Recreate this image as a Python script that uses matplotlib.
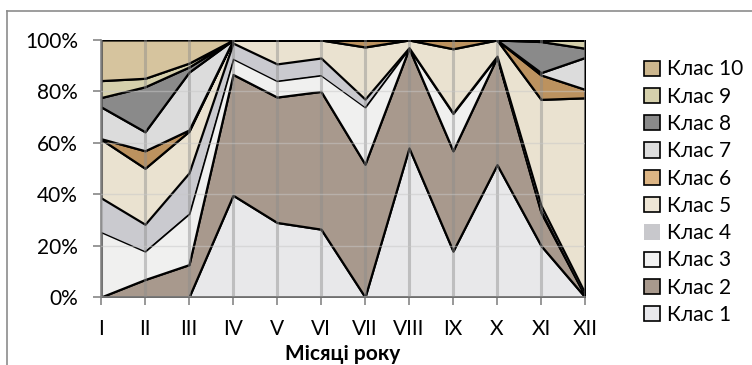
import matplotlib
matplotlib.use("Agg")
import matplotlib.pyplot as plt
from matplotlib.patches import Patch
from matplotlib.lines import Line2D
import numpy as np

plt.rcParams['font.family'] = ['Lato', 'DejaVu Sans']

months = ['I', 'II', 'III', 'IV', 'V', 'VI', 'VII', 'VIII', 'IX', 'X', 'XI', 'XII']
labels = ['Клас 1', 'Клас 2', 'Клас 3', 'Клас 4', 'Клас 5',
          'Клас 6', 'Клас 7', 'Клас 8', 'Клас 9', 'Клас 10']

# share of each class per month, %
klas1 = [0, 0, 0, 39.6, 29, 26.4, 0, 58, 17.9, 51.5, 20, 0]
klas2 = [0, 6.8, 12.6, 47, 48.8, 53.6, 51.7, 38.8, 39, 41.8, 12.9, 0.5]
klas3 = [25.4, 11.1, 19.9, 6.2, 6.4, 6.4, 22.3, 0.1, 14.5, 0.2, 1.7, 0.5]
klas4 = [13.2, 10.4, 15.8, 6, 6.5, 6.6, 3, 0.1, 0.2, 0.2, 1.0, 0.5]
klas5 = [22.8, 21.8, 16.2, 1.2, 9.3, 7, 20.3, 3, 25, 6.3, 41.3, 76]
klas6 = [0.2, 6.8, 0.5, 0, 0, 0, 2.7, 0, 3.4, 0, 9.5, 3.3]
klas7 = [12.4, 7.4, 22.5, 0, 0, 0, 0, 0, 0, 0, 0.9, 12.4]
klas8 = [3.6, 17.5, 2, 0, 0, 0, 0, 0, 0, 0, 12.1, 3.6]
klas9 = [6.6, 3.3, 1.5, 0, 0, 0, 0, 0, 0, 0, 0.6, 3.2]
klas10 = [15.8, 14.9, 9, 0, 0, 0, 0, 0, 0, 0, 0, 0]

series = [klas1, klas2, klas3, klas4, klas5, klas6, klas7, klas8, klas9, klas10]
colors = ['#E8E8EA', '#A8998D', '#F0F0EF', '#CACACF', '#EAE2D0',
          '#BC925F', '#DCDCDC', '#8A8A8A', '#D5D0AC', '#D6C49E']
legend_colors = ['#E8E8EC', '#A8998D', '#F2F2F2', '#C8C8CC', '#EEE6D6',
                 '#DDB584', '#DCDCDC', '#8A8A8A', '#D5D0AC', '#CDB78E']
edges = ['black'] * 10
edges[3] = 'none'

fig = plt.figure(figsize=(7.52, 3.65), dpi=100)
ax = fig.add_axes([101 / 752, 68 / 365, 484 / 752, 257 / 365])

x = np.arange(len(months))
polys = ax.stackplot(x, *series, colors=colors, zorder=2)
for p, ec in zip(polys, edges):
    p.set_edgecolor(ec)
    p.set_linewidth(1.6)

# grid drawn over the fills, like the see-through textures of the original
for xi in x:
    ax.axvline(xi, color='#8C8C8C', lw=2.2, alpha=0.45, zorder=3)
for yv in range(20, 100, 20):
    ax.axhline(yv, color='#C8C8C8', lw=1, alpha=0.5, zorder=3)

ax.set_xlim(0, len(months) - 1)
ax.set_ylim(0, 100)
ax.set_xticks(x)
ax.set_xticklabels(months)
ax.set_yticks(range(0, 101, 20))
ax.set_yticklabels([f'{v}%' for v in range(0, 101, 20)])
ax.tick_params(axis='both', labelsize=15, color='#868686', length=5.5, width=1.2)
ax.tick_params(axis='x', pad=10)
ax.tick_params(axis='y', pad=11)
for s in ['top', 'right']:
    ax.spines[s].set_visible(False)
for s in ['left', 'bottom']:
    ax.spines[s].set_color('#868686')
    ax.spines[s].set_linewidth(1.2)
ax.set_xlabel('Місяці року', fontsize=15, fontweight='bold', labelpad=4)

handles = [Patch(facecolor=c, edgecolor=('none' if e == 'none' else 'black'), lw=1.2)
           for c, e in zip(legend_colors, edges)]
fig.legend(handles[::-1], labels[::-1], loc='upper left',
           bbox_to_anchor=(634 / 752, 1 - 49 / 365), frameon=False,
           fontsize=15, handlelength=0.75, handleheight=0.75,
           handletextpad=0.35, labelspacing=0.35, borderpad=0)

# outer chart frame (cut off at the right and bottom)
fig.add_artist(Line2D([7 / 752, 7 / 752], [0, 1 - 11 / 365], color='#8C8C8C', lw=1.2))
fig.add_artist(Line2D([7 / 752, 1], [1 - 11 / 365, 1 - 11 / 365], color='#8C8C8C', lw=1.2))

fig.savefig('out.png', dpi=100)
